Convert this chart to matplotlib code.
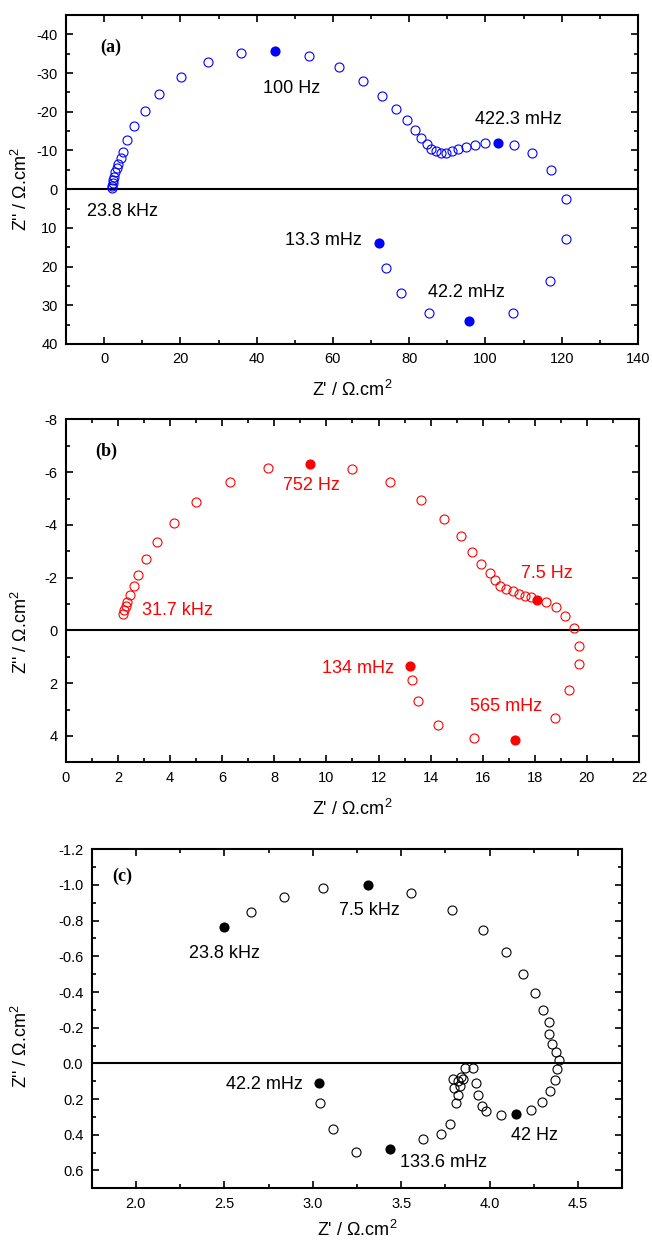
import matplotlib
matplotlib.use("Agg")
import matplotlib.pyplot as plt
from matplotlib.ticker import MultipleLocator, FormatStrFormatter

plt.rcParams['font.family'] = ['Liberation Sans', 'DejaVu Sans']
plt.rcParams['font.size'] = 10
plt.rcParams['axes.unicode_minus'] = False
plt.rcParams['mathtext.fontset'] = 'custom'
plt.rcParams['mathtext.rm'] = 'Liberation Sans'
plt.rcParams['mathtext.default'] = 'regular'

# panel (a) - open symbols
a_zr = [2.18, 2.18, 2.36, 2.44, 2.61, 2.88, 3.31, 3.75, 4.36, 4.97, 6.0, 7.8,
        10.6, 14.4, 20.1, 27.3, 35.9, 53.8, 61.6, 68.0, 73.0, 76.5, 79.3, 81.4,
        83.2, 84.6, 85.8, 87.1, 88.4, 89.6, 91.2, 92.8, 94.9, 97.2, 99.9,
        107.4, 112.1, 117.1, 121.1, 121.2, 116.8, 107.1, 85.2, 77.8, 73.8]
a_zi = [-0.26, -0.87, -1.56, -2.34, -3.2, -4.33, -5.45, -6.49, -7.97, -9.7, -12.8, -16.3,
        -20.3, -24.7, -29.0, -32.9, -35.3, -34.5, -31.6, -27.9, -24.0, -20.7, -17.8, -15.3,
        -13.2, -11.6, -10.4, -9.8, -9.4, -9.4, -9.8, -10.3, -10.9, -11.4, -11.9,
        -11.3, -9.3, -4.9, 2.6, 12.8, 23.8, 31.9, 32.0, 26.8, 20.4]
# panel (a) - marked frequencies
a_mark_zr = [44.9, 103.4, 95.6, 72.2]
a_mark_zi = [-35.8, -11.9, 34.1, 13.8]
a_labels = ["100 Hz", "422.3 mHz", "23.8 kHz", "13.3 mHz", "42.2 mHz"]
a_label_x = [49.1, 108.7, 4.9, 57.6, 94.9]
a_label_y = [-26.0, -17.9, 5.7, 13.2, 26.8]

# panel (b)
b_zr = [2.2, 2.24, 2.29, 2.34, 2.46, 2.6, 2.78, 3.08, 3.49, 4.13, 5.0, 6.28, 7.74,
        10.98, 12.44, 13.64, 14.5, 15.16, 15.59, 15.94, 16.28, 16.48, 16.67, 16.89,
        17.15, 17.4, 17.63, 17.84, 18.43, 18.81, 19.16, 19.52, 19.71, 19.68, 19.32,
        18.76, 15.66, 14.28, 13.52, 13.29]
b_zi = [-0.63, -0.78, -0.91, -1.07, -1.34, -1.68, -2.11, -2.69, -3.35, -4.09, -4.88, -5.64, -6.17,
        -6.13, -5.62, -4.96, -4.24, -3.57, -2.97, -2.53, -2.18, -1.91, -1.70, -1.56,
        -1.49, -1.38, -1.30, -1.26, -1.06, -0.87, -0.54, -0.10, 0.59, 1.27, 2.25,
        3.32, 4.06, 3.58, 2.66, 1.86]
b_mark_zr = [9.37, 18.07, 17.25, 13.2]
b_mark_zi = [-6.30, -1.17, 4.14, 1.36]
b_labels = ["752 Hz", "31.7 kHz", "7.5 Hz", "134 mHz", "565 mHz"]
b_label_x = [9.43, 4.28, 18.45, 11.23, 16.9]
b_label_y = [-5.5, -0.75, -2.17, 1.45, 2.87]

# panel (c)
c_zr = [2.65, 2.837, 3.06, 3.553, 3.787, 3.96, 4.093, 4.187, 4.255, 4.3, 4.334, 4.334,
        4.35, 4.374, 4.391, 4.379, 4.372, 4.344, 4.297, 4.236, 4.066, 3.977, 3.955,
        3.936, 3.921, 3.908, 3.863, 3.838, 3.85, 3.823, 3.791, 3.797, 3.83, 3.823,
        3.81, 3.774, 3.723, 3.621, 3.247, 3.116, 3.042]
c_zi = [-0.849, -0.933, -0.985, -0.957, -0.857, -0.745, -0.623, -0.50, -0.392, -0.30, -0.23, -0.164,
        -0.11, -0.065, -0.02, 0.034, 0.095, 0.155, 0.218, 0.261, 0.29, 0.269, 0.239,
        0.176, 0.112, 0.024, 0.024, 0.075, 0.09, 0.097, 0.086, 0.138, 0.127, 0.176,
        0.22, 0.338, 0.394, 0.426, 0.495, 0.37, 0.224]
c_mark_zr = [2.499, 3.31, 4.147, 3.438, 3.036]
c_mark_zi = [-0.765, -0.997, 0.286, 0.482, 0.108]
c_labels = ["23.8 kHz", "7.5 kHz", "42.2 mHz", "133.6 mHz", "42 Hz"]
c_label_x = [2.499, 3.32, 2.727, 3.737, 4.253]
c_label_y = [-0.616, -0.858, 0.121, 0.558, 0.402]

fig = plt.figure(figsize=(6.52, 12.40), dpi=100)
ax_a = fig.add_axes([0.1012, 0.7226, 0.8773, 0.2653])
ax_b = fig.add_axes([0.1012, 0.3852, 0.8788, 0.2766])
ax_c = fig.add_axes([0.1406, 0.0417, 0.8138, 0.2734])

panels = [
    (ax_a, a_zr, a_zi, a_mark_zr, a_mark_zi, a_labels, a_label_x, a_label_y, 'blue', '(a)', (0.079, 0.903)),
    (ax_b, b_zr, b_zi, b_mark_zr, b_mark_zi, b_labels, b_label_x, b_label_y, 'red', '(b)', (0.071, 0.906)),
    (ax_c, c_zr, c_zi, c_mark_zr, c_mark_zi, c_labels, c_label_x, c_label_y, 'black', '(c)', (0.058, 0.919)),
]

for ax, zr, zi, mzr, mzi, labs, lx, ly, col, tag, tagpos in panels:
    ax.axhline(0, color='black', lw=1.5, zorder=1)
    ax.plot(zr, zi, 'o', mfc='none', mec=col, mew=0.8, ms=6.5, zorder=2)
    ax.plot(mzr, mzi, 'o', color=col, ms=6.3, zorder=3)
    for t, x, y in zip(labs, lx, ly):
        ax.text(x, y, t, color=col if col != 'blue' else 'black', fontsize=13,
                ha='center', va='center')
    ax.text(tagpos[0], tagpos[1], tag, transform=ax.transAxes, ha='center', va='center',
            fontsize=13, fontweight='bold', family='Liberation Serif')
    ax.set_ylabel("Z'' / Ω.cm$^2$", fontsize=13)
    ax.tick_params(which='both', direction='in', top=True, right=True, labelsize=10.5, pad=6)
    ax.tick_params(which='major', length=5, width=1.2)
    ax.tick_params(which='minor', length=3, width=1.2)
    for s in ax.spines.values():
        s.set_linewidth(1.5)

ax_a.set_xlabel("Z' / Ω.cm$^2$", fontsize=13, labelpad=10)
ax_a.set_xlim(-10, 140)
ax_a.set_ylim(40, -45)
ax_a.xaxis.set_major_locator(MultipleLocator(20))
ax_a.xaxis.set_minor_locator(MultipleLocator(10))
ax_a.yaxis.set_major_locator(MultipleLocator(10))
ax_a.yaxis.set_minor_locator(MultipleLocator(5))
ax_a.yaxis.set_label_coords(-0.061, 0.47)

ax_b.set_xlabel("Z' / Ω.cm$^2$", fontsize=13, labelpad=10)
ax_b.set_xlim(0, 22)
ax_b.set_ylim(5, -8)
ax_b.xaxis.set_major_locator(MultipleLocator(2))
ax_b.xaxis.set_minor_locator(MultipleLocator(1))
ax_b.yaxis.set_major_locator(MultipleLocator(2))
ax_b.yaxis.set_minor_locator(MultipleLocator(1))
ax_b.yaxis.set_label_coords(-0.061, 0.38)

ax_c.set_xlabel("Z' / Ω.cm$^2$", fontsize=13, labelpad=7)
ax_c.set_xlim(1.75, 4.75)
ax_c.set_ylim(0.7, -1.2)
ax_c.xaxis.set_major_locator(MultipleLocator(0.5))
ax_c.xaxis.set_minor_locator(MultipleLocator(0.25))
ax_c.yaxis.set_major_locator(MultipleLocator(0.2))
ax_c.yaxis.set_minor_locator(MultipleLocator(0.1))
ax_c.xaxis.set_major_formatter(FormatStrFormatter('%.1f'))
ax_c.yaxis.set_major_formatter(FormatStrFormatter('%.1f'))
ax_c.yaxis.set_label_coords(-0.114, 0.42)

plt.savefig("out.png", dpi=100)
